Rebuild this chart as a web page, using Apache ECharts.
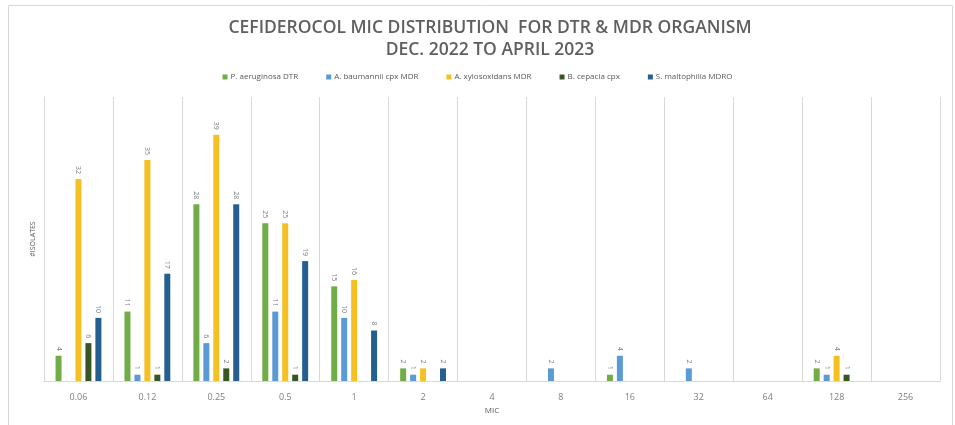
<!DOCTYPE html>
<html><head><meta charset="utf-8">
<script src="https://cdn.jsdelivr.net/npm/echarts@6/dist/echarts.min.js"></script>
<style>html,body{margin:0;padding:0;background:#fff}#c{width:955px;height:425px}</style>
</head><body><div id="c"></div>
<script>
const categories = ['0.06','0.12','0.25','0.5','1','2','4','8','16','32','64','128','256'];
const seriesNames = ['P. aeruginosa DTR','A. baumannii cpx MDR','A. xylosoxidans MDR','B. cepacia cpx','S. maltophilia MDRO'];
const pAeruginosa = [4, 11, 28, 25, 15, 2, null, null, 1, null, null, 2, null];
const aBaumannii = [null, 1, 6, 11, 10, 1, null, 2, 4, 2, null, 1, null];
const aXylosoxidans = [32, 35, 39, 25, 16, 2, null, null, null, null, null, 4, null];
const bCepacia = [6, 1, 2, 1, null, null, null, null, null, null, null, 1, null];
const sMaltophilia = [10, 17, 28, 19, 8, 2, null, null, null, null, null, null, null];
const colors = ['#70AD47','#5B9BD5','#F5C121','#375623','#255E91'];
const allData = [pAeruginosa, aBaumannii, aXylosoxidans, bCepacia, sMaltophilia];

const chart = echarts.init(document.getElementById('c'));
chart.setOption({
  animation: false,
  graphic: [{type:'rect', shape:{x:8.5,y:5.5,width:944,height:440}, style:{fill:'none', stroke:'#d9d9d9', lineWidth:1}}],
  title: {
    text: 'CEFIDEROCOL MIC DISTRIBUTION  FOR DTR & MDR ORGANISM\nDEC. 2022 TO APRIL 2023',
    left: 485, top: 12, textAlign: 'center',
    textStyle: {fontFamily:'Open Sans', fontWeight:600, fontSize:17.5, color:'#5f5f5f', lineHeight:22}
  },
  legend: {
    top: 68, left: 'center', itemWidth: 5, itemHeight: 5, itemGap: 28, icon: 'rect',
    textStyle: {fontFamily:'Open Sans', fontSize:8, color:'#595959', padding:[0,0,0,-2]},
    data: seriesNames
  },
  grid: {left: 44, right: 15, top: 97, bottom: 44},
  xAxis: {
    type: 'category', data: categories, name: 'MIC', nameLocation: 'middle', nameGap: 24,
    nameTextStyle: {fontFamily:'Open Sans', fontSize:8, color:'#595959'},
    axisLine: {lineStyle:{color:'#d9d9d9'}}, axisTick: {show:false},
    axisLabel: {fontFamily:'Open Sans', fontSize:9, color:'#7f7f7f', margin:12, interval:0},
    splitLine: {show:true, interval:0, lineStyle:{color:'#d9d9d9'}}
  },
  yAxis: {
    type: 'value', min: 0, max: 45, name: '#ISOLATES', nameLocation: 'middle', nameGap: 8, nameRotate: 90,
    nameTextStyle: {fontFamily:'Open Sans', fontSize:7, color:'#595959'},
    axisLine: {show:true, lineStyle:{color:'#d9d9d9'}}, axisTick:{show:false}, axisLabel:{show:false}, splitLine:{show:false}
  },
  series: seriesNames.map((n,i)=>({
    name: n, type: 'bar', data: allData[i], barWidth: 6, barGap: '66%', barCategoryGap: '33%',
    itemStyle: {color: colors[i]},
    label: {show:true, position:'top', rotate:-90, align:'right', verticalAlign:'middle', distance:5,
      fontFamily:'Open Sans', fontSize:7, color:'#7f7f7f'}
  }))
});
</script></body></html>
